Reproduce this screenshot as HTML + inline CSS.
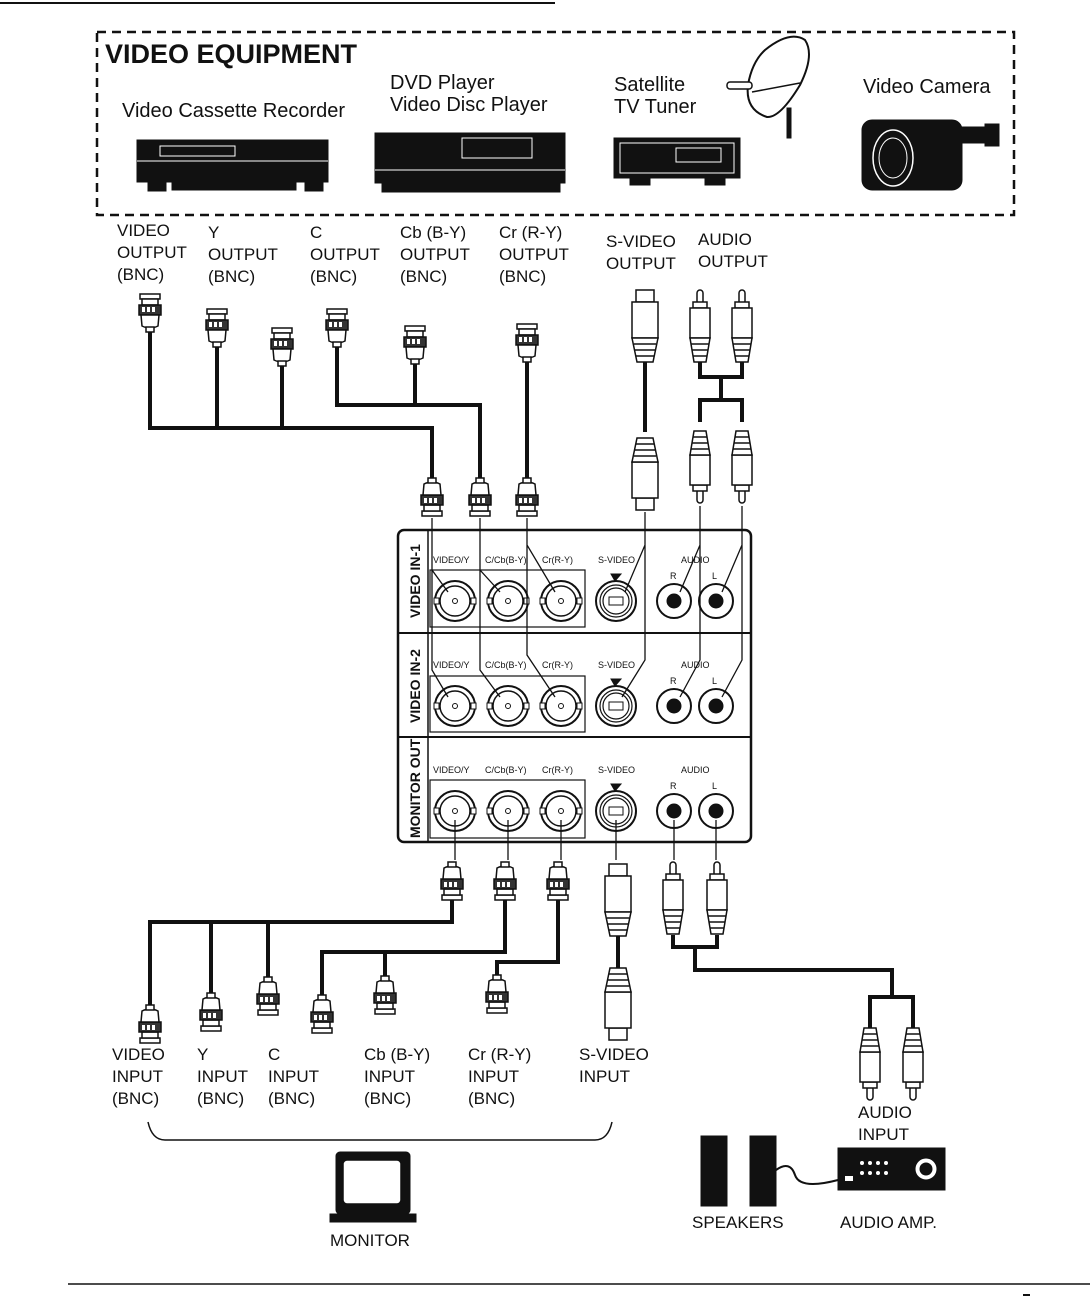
<!DOCTYPE html>
<html><head><meta charset="utf-8"><style>
html,body{margin:0;padding:0;background:#fff}
svg{display:block}
text{font-family:"Liberation Sans",sans-serif;fill:#111}
.l{font-size:17px}
.e{font-size:20px}
.p{font-size:9px}
</style></head><body>
<svg width="1090" height="1312" viewBox="0 0 1090 1312" xmlns="http://www.w3.org/2000/svg">
<defs>
<g id="bnc" stroke="#111" stroke-width="1.5" fill="#fff">
<rect x="-10" y="0" width="20" height="5"/>
<rect x="-8" y="5" width="16" height="6"/>
<rect x="-11" y="11" width="22" height="10" fill="#333"/>
<rect x="-8" y="13" width="3" height="5" fill="#fff" stroke="none"/><rect x="-3" y="13" width="3" height="5" fill="#fff" stroke="none"/><rect x="2" y="13" width="3" height="5" fill="#fff" stroke="none"/>
<path d="M-9 21 L9 21 L8 32 Q0 36 -8 32 Z"/>
<rect x="-4" y="33" width="8" height="5"/>
</g>
<g id="rca" stroke="#111" stroke-width="1.5" fill="#fff">
<rect x="-3" y="0" width="6" height="14" rx="3"/>
<rect x="-7" y="12" width="14" height="6"/>
<rect x="-10" y="18" width="20" height="30"/>
<path d="M-10 48 L10 48 L6 72 L-6 72 Z"/>
<line x1="-9" y1="54" x2="9" y2="54"/><line x1="-8" y1="60" x2="8" y2="60"/><line x1="-7" y1="66" x2="7" y2="66"/>
</g>
<g id="sv" stroke="#111" stroke-width="1.5" fill="#fff">
<rect x="-9" y="0" width="18" height="12"/>
<rect x="-13" y="12" width="26" height="36"/>
<path d="M-13 48 L13 48 L8 72 L-8 72 Z"/>
<line x1="-11" y1="54" x2="11" y2="54"/><line x1="-10" y1="60" x2="10" y2="60"/><line x1="-9" y1="66" x2="9" y2="66"/>
</g>
<g id="bj" stroke="#111" fill="#fff">
<circle r="20" stroke-width="2"/><circle r="15" stroke-width="1.5"/><circle r="2.5" stroke-width="1"/>
<rect x="-21" y="-3" width="5" height="6" stroke-width="1"/><rect x="16" y="-3" width="5" height="6" stroke-width="1"/>
</g>
<g id="sj" stroke="#111" fill="#fff">
<circle r="20" stroke-width="2"/><circle r="16" stroke-width="1.2"/><circle r="13" stroke-width="1.2"/>
<rect x="-7" y="-4" width="14" height="8" stroke-width="1"/>
<path d="M-1 -20 L-5 -27 L5 -27 Z" fill="#111"/>
</g>
<g id="rj" stroke="#111" fill="#fff">
<circle r="17" stroke-width="2"/><circle r="7" fill="#111"/>
</g>
</defs>

<line x1="0" y1="3" x2="555" y2="3" stroke="#111" stroke-width="2"/>
<rect x="97" y="32" width="917" height="183" fill="none" stroke="#111" stroke-width="2.5" stroke-dasharray="9,6"/>
<text x="105" y="63" style="font-size:27px;font-weight:bold">VIDEO EQUIPMENT</text>
<text x="122" y="117" class="e">Video Cassette Recorder</text>
<text x="390" y="89" class="e">DVD Player</text>
<text x="390" y="111" class="e">Video Disc Player</text>
<text x="614" y="91" class="e">Satellite</text>
<text x="614" y="113" class="e">TV Tuner</text>
<text x="863" y="93" class="e">Video Camera</text>

<g stroke="#111" fill="#111">
<rect x="137" y="140" width="191" height="42"/>
<rect x="160" y="146" width="75" height="10" fill="none" stroke="#fff" stroke-width="1"/>
<line x1="137" y1="161" x2="328" y2="161" stroke="#fff" stroke-width="1"/>
<rect x="148" y="182" width="18" height="9"/><rect x="305" y="182" width="18" height="9"/>
<rect x="172" y="182" width="124" height="8"/>
<rect x="375" y="133" width="190" height="50"/>
<rect x="462" y="138" width="70" height="20" fill="none" stroke="#fff" stroke-width="1"/>
<line x1="375" y1="170" x2="565" y2="170" stroke="#fff" stroke-width="1"/>
<rect x="382" y="183" width="178" height="9"/>
<rect x="614" y="138" width="126" height="40"/>
<rect x="620" y="143" width="114" height="30" fill="none" stroke="#fff" stroke-width="1"/>
<rect x="676" y="148" width="45" height="14" fill="none" stroke="#fff" stroke-width="1"/>
<rect x="630" y="178" width="20" height="7"/><rect x="705" y="178" width="20" height="7"/>
<rect x="787" y="108" width="4" height="30"/>
<path d="M765 50 Q790 30 805 40 Q815 55 800 85 Q780 118 767 117 Q745 110 748 85 Q752 62 765 50 Z" fill="#fff" stroke-width="2"/>
<line x1="752" y1="92" x2="800" y2="83" stroke-width="1.5"/>
<rect x="727" y="82" width="25" height="7" rx="3" fill="#fff" stroke-width="1.5"/>
<rect x="862" y="120" width="100" height="70" rx="10"/>
<rect x="955" y="127" width="32" height="16"/><rect x="985" y="124" width="14" height="22"/>
<ellipse cx="893" cy="158" rx="20" ry="28" fill="#111" stroke="#fff" stroke-width="1.5"/>
<ellipse cx="893" cy="158" rx="14" ry="20" fill="#111" stroke="#fff" stroke-width="1"/>
</g>

<g class="l">
<text x="117" y="236">VIDEO</text><text x="117" y="258">OUTPUT</text><text x="117" y="280">(BNC)</text>
<text x="208" y="238">Y</text><text x="208" y="260">OUTPUT</text><text x="208" y="282">(BNC)</text>
<text x="310" y="238">C</text><text x="310" y="260">OUTPUT</text><text x="310" y="282">(BNC)</text>
<text x="400" y="238">Cb (B-Y)</text><text x="400" y="260">OUTPUT</text><text x="400" y="282">(BNC)</text>
<text x="499" y="238">Cr (R-Y)</text><text x="499" y="260">OUTPUT</text><text x="499" y="282">(BNC)</text>
<text x="606" y="247">S-VIDEO</text><text x="606" y="269">OUTPUT</text>
<text x="698" y="245">AUDIO</text><text x="698" y="267">OUTPUT</text>
</g>

<g stroke="#111" stroke-width="4" fill="none">
<path d="M150 332 V428 H432 V480"/>
<path d="M217 347 V428"/><path d="M282 366 V428"/>
<path d="M337 347 V405 H480 V480"/>
<path d="M415 364 V405"/>
<path d="M527 362 V480"/>
<path d="M645 362 V432"/>
<path d="M700 362 V377 H742 V362 M721 377 V400 M700 422 V400 H742 V422"/>
</g>
<use href="#bnc" x="150" y="294"/>
<use href="#bnc" x="217" y="309"/>
<use href="#bnc" x="282" y="328"/>
<use href="#bnc" x="337" y="309"/>
<use href="#bnc" x="415" y="326"/>
<use href="#bnc" x="527" y="324"/>
<use href="#bnc" transform="translate(432,516) scale(1,-1)"/>
<use href="#bnc" transform="translate(480,516) scale(1,-1)"/>
<use href="#bnc" transform="translate(527,516) scale(1,-1)"/>
<use href="#sv" x="645" y="290"/>
<use href="#sv" transform="translate(645,510) scale(1,-1)"/>
<use href="#rca" x="700" y="290"/>
<use href="#rca" x="742" y="290"/>
<use href="#rca" transform="translate(700,503) scale(1,-1)"/>
<use href="#rca" transform="translate(742,503) scale(1,-1)"/>

<rect x="398" y="530" width="353" height="312" rx="6" fill="#fff" stroke="#111" stroke-width="2.5"/>
<line x1="428" y1="530" x2="428" y2="842" stroke="#111" stroke-width="1.5"/>
<line x1="398" y1="633" x2="751" y2="633" stroke="#111" stroke-width="2"/>
<line x1="398" y1="737" x2="751" y2="737" stroke="#111" stroke-width="2"/>
<g style="font-size:14px;font-weight:bold">
<text transform="translate(420,618) rotate(-90)">VIDEO IN-1</text>
<text transform="translate(420,723) rotate(-90)">VIDEO IN-2</text>
<text transform="translate(420,838) rotate(-90)">MONITOR OUT</text>
</g>
<g fill="none" stroke="#111" stroke-width="1.2">
<rect x="430" y="570" width="155" height="57"/>
<rect x="430" y="676" width="155" height="56"/>
<rect x="430" y="780" width="155" height="58"/>
</g>
<g class="p">
<text x="433" y="563">VIDEO/Y</text><text x="485" y="563">C/Cb(B-Y)</text><text x="542" y="563">Cr(R-Y)</text><text x="598" y="563">S-VIDEO</text><text x="681" y="563">AUDIO</text><text x="670" y="579">R</text><text x="712" y="579">L</text>
<text x="433" y="668">VIDEO/Y</text><text x="485" y="668">C/Cb(B-Y)</text><text x="542" y="668">Cr(R-Y)</text><text x="598" y="668">S-VIDEO</text><text x="681" y="668">AUDIO</text><text x="670" y="684">R</text><text x="712" y="684">L</text>
<text x="433" y="773">VIDEO/Y</text><text x="485" y="773">C/Cb(B-Y)</text><text x="542" y="773">Cr(R-Y)</text><text x="598" y="773">S-VIDEO</text><text x="681" y="773">AUDIO</text><text x="670" y="789">R</text><text x="712" y="789">L</text>
</g>
<use href="#bj" x="455" y="601"/><use href="#bj" x="508" y="601"/><use href="#bj" x="561" y="601"/>
<use href="#sj" x="616" y="601"/><use href="#rj" x="674" y="601"/><use href="#rj" x="716" y="601"/>
<use href="#bj" x="455" y="706"/><use href="#bj" x="508" y="706"/><use href="#bj" x="561" y="706"/>
<use href="#sj" x="616" y="706"/><use href="#rj" x="674" y="706"/><use href="#rj" x="716" y="706"/>
<use href="#bj" x="455" y="811"/><use href="#bj" x="508" y="811"/><use href="#bj" x="561" y="811"/>
<use href="#sj" x="616" y="811"/><use href="#rj" x="674" y="811"/><use href="#rj" x="716" y="811"/>

<g stroke="#111" stroke-width="1.3" fill="none">
<path d="M432 518 V570 L448 592 M432 570 V670 L448 697"/>
<path d="M480 518 V570 L500 592 M480 570 V670 L500 697"/>
<path d="M527 518 V545 L555 592 M527 545 V655 L555 697"/>
<path d="M645 512 V545 L625 592 M645 545 V660 L622 697"/>
<path d="M700 506 V545 L680 592 M700 545 V660 L680 697"/>
<path d="M742 506 V545 L722 592 M742 545 V660 L722 697"/>
<path d="M455 860 V820 M508 860 V820 M561 860 V820 M616 860 V820 M674 860 V820 M716 860 V820"/>
</g>

<g stroke="#111" stroke-width="4" fill="none">
<path d="M452 900 V922 H150 V1006"/>
<path d="M211 922 V994 M268 922 V978"/>
<path d="M505 900 V952 H322 V996"/>
<path d="M385 952 V977"/>
<path d="M558 900 V962 H497 V976"/>
<path d="M618 935 V970"/>
<path d="M673 935 V947 H717 V935 M695 947 V970 H892 V997 H870 V1030 M892 997 H913 V1030"/>
</g>
<use href="#bnc" transform="translate(452,900) scale(1,-1)"/>
<use href="#bnc" transform="translate(505,900) scale(1,-1)"/>
<use href="#bnc" transform="translate(558,900) scale(1,-1)"/>
<use href="#bnc" transform="translate(150,1043) scale(1,-1)"/>
<use href="#bnc" transform="translate(211,1031) scale(1,-1)"/>
<use href="#bnc" transform="translate(268,1015) scale(1,-1)"/>
<use href="#bnc" transform="translate(322,1033) scale(1,-1)"/>
<use href="#bnc" transform="translate(385,1014) scale(1,-1)"/>
<use href="#bnc" transform="translate(497,1013) scale(1,-1)"/>
<use href="#sv" x="618" y="864"/>
<use href="#sv" transform="translate(618,1040) scale(1,-1)"/>
<use href="#rca" x="673" y="862"/>
<use href="#rca" x="717" y="862"/>
<use href="#rca" transform="translate(870,1100) scale(1,-1)"/>
<use href="#rca" transform="translate(913,1100) scale(1,-1)"/>

<g class="l">
<text x="112" y="1060">VIDEO</text><text x="112" y="1082">INPUT</text><text x="112" y="1104">(BNC)</text>
<text x="197" y="1060">Y</text><text x="197" y="1082">INPUT</text><text x="197" y="1104">(BNC)</text>
<text x="268" y="1060">C</text><text x="268" y="1082">INPUT</text><text x="268" y="1104">(BNC)</text>
<text x="364" y="1060">Cb (B-Y)</text><text x="364" y="1082">INPUT</text><text x="364" y="1104">(BNC)</text>
<text x="468" y="1060">Cr (R-Y)</text><text x="468" y="1082">INPUT</text><text x="468" y="1104">(BNC)</text>
<text x="579" y="1060">S-VIDEO</text><text x="579" y="1082">INPUT</text>
<text x="858" y="1118">AUDIO</text><text x="858" y="1140">INPUT</text>
<text x="330" y="1246">MONITOR</text>
<text x="692" y="1228">SPEAKERS</text>
<text x="840" y="1228">AUDIO AMP.</text>
</g>
<path d="M148 1122 Q152 1140 165 1140 H595 Q608 1140 612 1122" fill="none" stroke="#111" stroke-width="1.5"/>

<g stroke="#111" fill="#111">
<rect x="336" y="1152" width="74" height="62" rx="4"/>
<rect x="343" y="1160" width="58" height="44" rx="4" fill="#fff" stroke-width="1.5"/>
<rect x="330" y="1214" width="86" height="8"/>
<rect x="701" y="1136" width="26" height="70"/>
<rect x="750" y="1136" width="26" height="70"/>
<path d="M776 1170 Q790 1160 795 1175 Q800 1190 838 1180" fill="none" stroke-width="2"/>
<rect x="838" y="1148" width="107" height="42"/>
<circle cx="926" cy="1169" r="11" fill="#fff"/><circle cx="926" cy="1169" r="6"/>
<g fill="#fff" stroke="none">
<circle cx="862" cy="1163" r="2"/><circle cx="870" cy="1163" r="2"/><circle cx="878" cy="1163" r="2"/><circle cx="886" cy="1163" r="2"/>
<circle cx="862" cy="1173" r="2"/><circle cx="870" cy="1173" r="2"/><circle cx="878" cy="1173" r="2"/><circle cx="886" cy="1173" r="2"/>
<rect x="845" y="1176" width="8" height="5"/>
</g>
</g>
<line x1="68" y1="1284" x2="1090" y2="1284" stroke="#111" stroke-width="1.5"/>
<line x1="1023" y1="1295" x2="1030" y2="1295" stroke="#111" stroke-width="2"/>
</svg>
</body></html>
